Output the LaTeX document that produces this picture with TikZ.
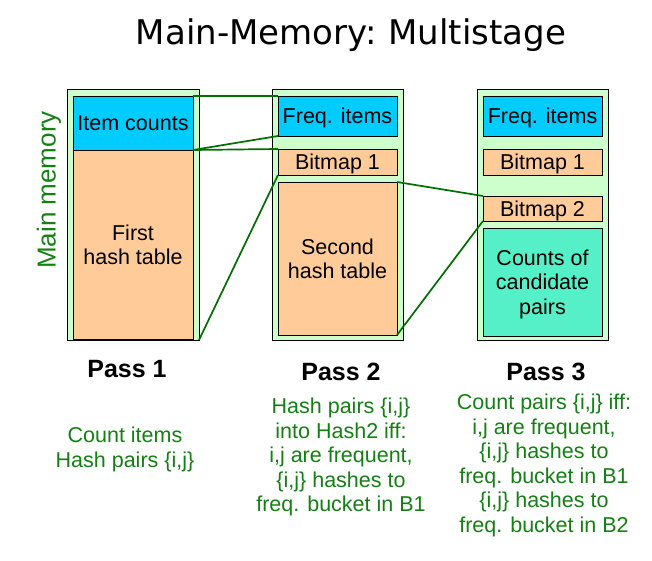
\documentclass[tikz,border=0pt]{standalone}
\usepackage{fontspec}
\setmainfont{Liberation Sans}
\newfontfamily\titlefont{DejaVu Sans}
\definecolor{memgreen}{RGB}{204,255,204}
\definecolor{cntblue}{RGB}{0,204,255}
\definecolor{peach}{RGB}{255,204,153}
\definecolor{aqua}{RGB}{85,240,200}
\definecolor{txtgreen}{RGB}{20,128,20}
\definecolor{linkgreen}{RGB}{0,110,0}
\begin{document}
\begin{tikzpicture}[x=1pt,y=-1pt,
  membox/.style={draw=black, line width=0.9pt, fill=memgreen, inner sep=0pt, outer sep=0pt},
  blk/.style={draw=black, line width=0.9pt, inner sep=0pt, outer sep=0pt, align=center,
    text depth=0pt, font=\fontsize{21.5}{24.5}\selectfont},
  link/.style={draw=linkgreen, line width=1.7pt},
  passlbl/.style={anchor=base, font=\fontsize{25}{29}\selectfont\bfseries},
  note/.style={align=center, text=txtgreen, font=\fontsize{21.5}{24.5}\selectfont}]
\useasboundingbox (0,0) rectangle (652,561);

% title
\node[anchor=base, font=\titlefont\fontsize{34}{40}\selectfont] (title) at (351,45)
  {Main-Memory:\hspace{0.35em}Multistage};

% side label
\node[rotate=90, text=txtgreen, font=\fontsize{26}{30}\selectfont] (mainmem) at (49,190) {Main memory};

% pass 1 memory
\node[membox, minimum width=132, minimum height=251] (mem1) at (133,214.5) {};
\node[blk, fill=cntblue, minimum width=120, minimum height=54] (cnt1) at (133,123) {Item counts};
\node[blk, fill=peach, minimum width=120, minimum height=189] (hash1) at (133,244.5) {First\\hash table};

% pass 2 memory
\node[membox, minimum width=131, minimum height=251] (mem2) at (337.5,214.5) {};
\node[blk, fill=cntblue, minimum width=119, minimum height=40] (freq2) at (337.5,116) {Freq. items};
\node[blk, fill=peach, minimum width=119, minimum height=26] (bmA2) at (337.5,162) {Bitmap 1};
\node[blk, fill=peach, minimum width=119, minimum height=153] (hash2) at (337.5,258.5) {Second\\hash table};

% pass 3 memory
\node[membox, minimum width=131, minimum height=251] (mem3) at (542.5,214.5) {};
\node[blk, fill=cntblue, minimum width=119, minimum height=40] (freq3) at (542.5,116) {Freq. items};
\node[blk, fill=peach, minimum width=119, minimum height=26] (bmA3) at (542.5,162) {Bitmap 1};
\node[blk, fill=peach, minimum width=119, minimum height=25] (bmB3) at (542.5,208.5) {Bitmap 2};
\node[blk, fill=aqua, minimum width=119, minimum height=108] (pairs3) at (542.5,282) {Counts of\\candidate\\pairs};

% links between passes
\draw[link] (cnt1.north east) -- (freq2.north west);
\draw[link] (cnt1.south east) -- (freq2.south west);
\draw[link] (cnt1.south east) -- (bmA2.north west);
\draw[link] (mem1.south east) -- (bmA2.south west);
\draw[link] (hash2.north east) -- (bmB3.north west);
\draw[link] (hash2.south east) -- (bmB3.south west);

% pass labels
\node[passlbl] (p1) at (127,377) {Pass 1};
\node[passlbl] (p2) at (341,380) {Pass 2};
\node[passlbl] (p3) at (546,380) {Pass 3};

% descriptions
\node[note] (d1) at (125,449.5) {Count items\\Hash pairs \{i,j\}};
\node[note] (d2) at (341,457) {Hash pairs \{i,j\}\\into Hash2 iff:\\i,j are frequent,\\\{i,j\} hashes to\\freq. bucket in B1};
\node[note] (d3) at (544,465.5) {Count pairs \{i,j\} iff:\\i,j are frequent,\\\{i,j\} hashes to\\freq. bucket in B1\\\{i,j\} hashes to\\freq. bucket in B2};
\end{tikzpicture}
\end{document}
